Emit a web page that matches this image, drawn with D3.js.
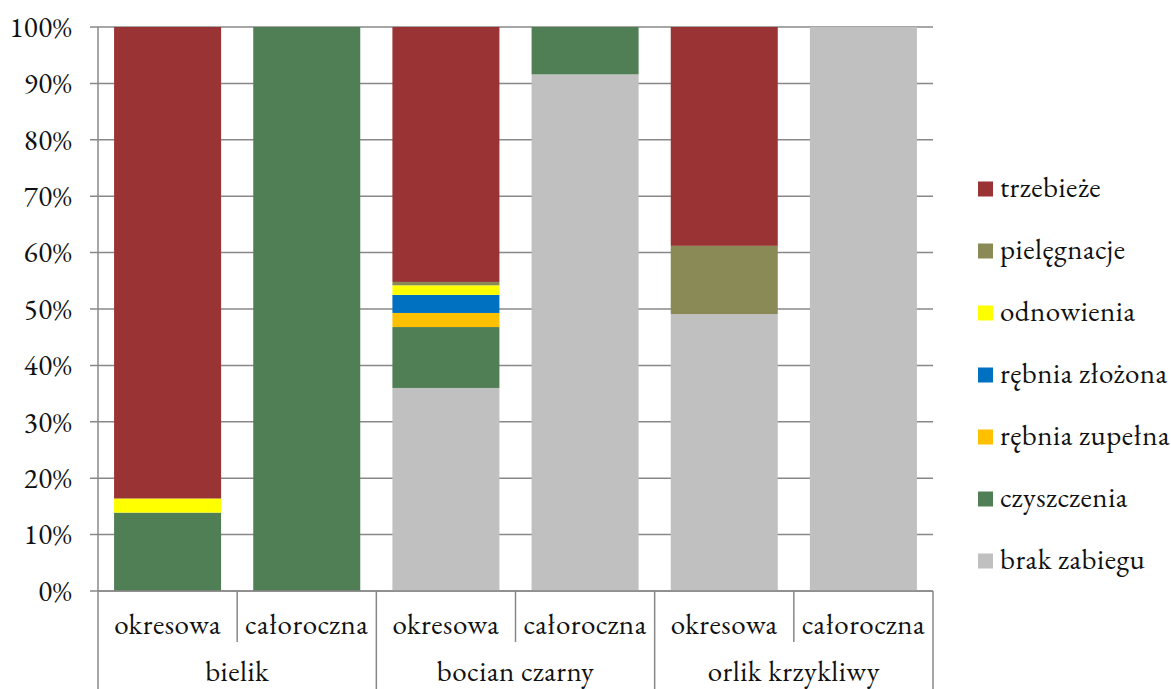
<!DOCTYPE html>
<html><head><meta charset="utf-8">
<script src="https://cdn.jsdelivr.net/npm/d3@7"></script>
<style>
html,body{margin:0;padding:0;background:#fff;}
</style></head>
<body>
<svg id="c" width="1171" height="689"></svg>
<script>
const groups = ["bielik","bocian czarny","orlik krzykliwy"];
const periods = ["okresowa","całoroczna"];
const series = ["brak zabiegu","czyszczenia","rębnia zupełna","rębnia złożona","odnowienia","pielęgnacje","trzebieże"];
const colors = ["#C0C0C0","#507F55","#FFC000","#0070C0","#FFFF00","#898A55","#9A3334"];
// values per series, in category order: bielik okr, bielik cał, bocian okr, bocian cał, orlik okr, orlik cał
const brakZabiegu   = [0,    0,   36.0, 91.6, 49.1, 100];
const czyszczenia   = [13.9, 100, 10.8, 8.4,  0,    0];
const rebniaZupelna = [0,    0,   2.5,  0,    0,    0];
const rebniaZlozona = [0,    0,   3.2,  0,    0,    0];
const odnowienia    = [2.5,  0,   1.7,  0,    0,    0];
const pielegnacje   = [0,    0,   0.6,  0,    12.1, 0];
const trzebieze     = [83.6, 0,   45.2, 0,    38.8, 0];
const seriesValues = [brakZabiegu,czyszczenia,rebniaZupelna,rebniaZlozona,odnowienia,pielegnacje,trzebieze];
const yTicks = [0,10,20,30,40,50,60,70,80,90,100];
const legendOrder = ["trzebieże","pielęgnacje","odnowienia","rębnia złożona","rębnia zupełna","czyszczenia","brak zabiegu"];

const FONT = "'EB Garamond','Liberation Serif',serif";
function styleText(sel){
  sel.style("font-family",FONT).style("font-size","29px").style("letter-spacing","0.5px").style("fill","#111");
}
const svg = d3.select("#c");
const pL = 98, pR = 933, pT = 27, pB = 591;
const cats = [];
groups.forEach(g => periods.forEach(p => cats.push(g + "|" + p)));
const rows = cats.map((c,i) => {
  const o = {cat:c};
  series.forEach((s,j) => o[s] = seriesValues[j][i]);
  return o;
});
const x = d3.scaleBand().domain(cats).range([pL,pR]).paddingInner(0.231).paddingOuter(0.1155);
const xStep = d3.scaleBand().domain(cats).range([pL,pR]);
const xg = d3.scaleBand().domain(groups).range([pL,pR]);
const y = d3.scaleLinear().domain([0,100]).range([pB,pT]);
const gridColor = "#888";

// gridlines
svg.append("g").selectAll("line").data(yTicks).join("line")
  .attr("x1", pL-8).attr("x2", pR).attr("y1", d=>y(d)).attr("y2", d=>y(d))
  .attr("stroke", gridColor).attr("stroke-width", 1.5);

// bars
const stack = d3.stack().keys(series)(rows);
svg.append("g").selectAll("g").data(stack).join("g")
  .attr("fill", (d,i)=>colors[i])
  .selectAll("rect").data(d=>d).join("rect")
  .attr("x", d=>x(d.data.cat)).attr("width", x.bandwidth())
  .attr("y", d=>y(d[1])).attr("height", d=>Math.max(0, y(d[0])-y(d[1])));

// y axis
const yAxis = d3.axisLeft(y).tickValues(yTicks).tickFormat(d=>d+"%").tickSize(0).tickPadding(26);
const ya = svg.append("g").attr("transform",`translate(${pL},0)`).call(yAxis);
ya.select(".domain").remove();
styleText(ya.selectAll("text"));

// axis lines
svg.append("line").attr("x1",pL).attr("x2",pL).attr("y1",pT).attr("y2",689)
  .attr("stroke",gridColor).attr("stroke-width",1.5);
svg.append("line").attr("x1",pL).attr("x2",pR).attr("y1",pB).attr("y2",pB)
  .attr("stroke",gridColor).attr("stroke-width",1.5);
// category separators
svg.append("g").selectAll("line").data(groups).join("line")
  .attr("x1", g=>xStep(g+"|"+periods[1])).attr("x2", g=>xStep(g+"|"+periods[1]))
  .attr("y1", pB).attr("y2", 642).attr("stroke",gridColor).attr("stroke-width",1.5);
// group separators
svg.append("g").selectAll("line").data(groups).join("line")
  .attr("x1", g=>xg(g)+xg.bandwidth()).attr("x2", g=>xg(g)+xg.bandwidth())
  .attr("y1", pB).attr("y2", 689).attr("stroke",gridColor).attr("stroke-width",1.5);

// category labels
styleText(svg.append("g").selectAll("text").data(cats).join("text")
  .attr("x", c=>xStep(c)+xStep.bandwidth()/2).attr("y", 634)
  .attr("text-anchor","middle").text(c=>c.split("|")[1]));
// group labels
styleText(svg.append("g").selectAll("text").data(groups).join("text")
  .attr("x", g=>xg(g)+xg.bandwidth()/2).attr("y", 681)
  .attr("text-anchor","middle").text(g=>g));

// legend
const lg = svg.append("g");
const ly = d3.scalePoint().domain(legendOrder).range([189,561]);
legendOrder.forEach(name => {
  const i = series.indexOf(name);
  lg.append("rect").attr("x",978).attr("y",ly(name)-7.5).attr("width",15).attr("height",15).attr("fill",colors[i]);
  styleText(lg.append("text").attr("x",1000).attr("y",ly(name)+8).text(name));
});
</script>
</body></html>
